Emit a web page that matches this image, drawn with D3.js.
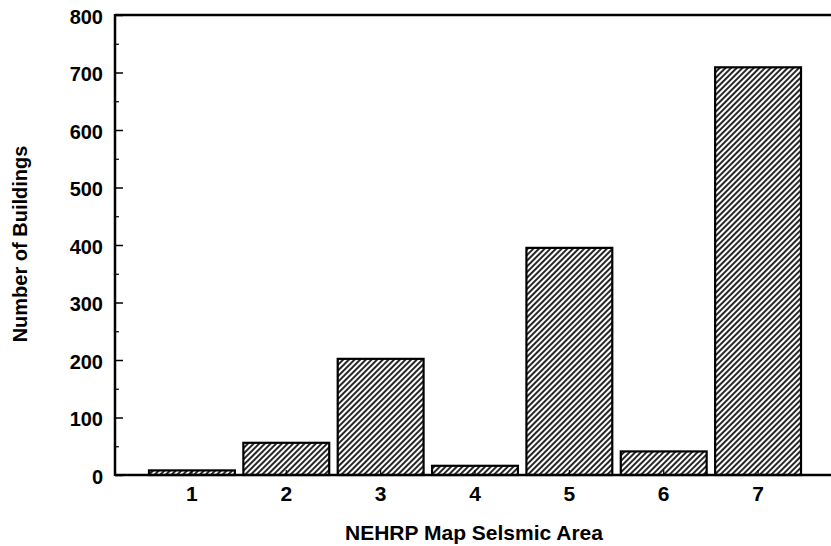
<!DOCTYPE html>
<html>
<head>
<meta charset="utf-8">
<script src="https://cdn.jsdelivr.net/npm/d3@7"></script>
<style>
  body { margin: 0; background: #fff; }
  text { font-family: "Liberation Sans", Arial, sans-serif; font-weight: bold; fill: #000; }
</style>
</head>
<body>
<div id="chart"></div>
<script>
const areas = ['1','2','3','4','5','6','7']
const buildings = [8, 56, 202, 16, 395, 41, 709]
const yTicks = [0, 100, 200, 300, 400, 500, 600, 700, 800]

const width = 831, height = 546
const plotLeft = 115, plotTop = 15, plotBottom = 475, plotRight = 840

const svg = d3.select('#chart').append('svg')
    .attr('width', width)
    .attr('height', height)

// hatch pattern for the bars
const pat = svg.append('defs').append('pattern')
    .attr('id', 'hatch')
    .attr('patternUnits', 'userSpaceOnUse')
    .attr('width', 4)
    .attr('height', 4)
    .attr('patternTransform', 'rotate(45)')
pat.append('rect').attr('width', 4).attr('height', 4).attr('fill', '#fff')
pat.append('line')
    .attr('x1', 1).attr('y1', 0).attr('x2', 1).attr('y2', 4)
    .attr('stroke', '#000').attr('stroke-width', 1.7)

const x = d3.scaleBand()
    .domain(areas)
    .range([149, 801])
    .paddingInner(0.09)

const y = d3.scaleLinear()
    .domain([0, 800])
    .range([plotBottom, plotTop])

// bars
svg.selectAll('.bar')
    .data(buildings)
    .join('rect')
    .attr('class', 'bar')
    .attr('x', (d, i) => x(areas[i]))
    .attr('y', d => y(d))
    .attr('width', x.bandwidth())
    .attr('height', d => y(0) - y(d))
    .attr('fill', 'url(#hatch)')
    .attr('stroke', '#000')
    .attr('stroke-width', 2.2)

// y axis, ticks point inward
const yAxis = svg.append('g')
    .attr('transform', `translate(${plotLeft},0)`)
    .call(d3.axisLeft(y).tickValues(yTicks).tickSize(-8).tickPadding(12))
yAxis.select('.domain').remove()
yAxis.selectAll('line').attr('stroke-width', 1.5)
yAxis.selectAll('text').attr('font-size', 20).attr('font-family', null).attr('dy', '0.42em')

const yMinor = svg.append('g')
    .attr('transform', `translate(${plotLeft},0)`)
    .call(d3.axisLeft(y).tickValues(yTicks.slice(1).map(v => v - 50)).tickSize(-4).tickFormat(''))
yMinor.select('.domain').remove()
yMinor.selectAll('line').attr('stroke-width', 1.2)

// x axis
const xAxis = svg.append('g')
    .attr('transform', `translate(0,${plotBottom})`)
    .call(d3.axisBottom(x).tickSize(-5).tickPadding(11))
xAxis.select('.domain').remove()
xAxis.selectAll('line').attr('stroke-width', 1.2)
xAxis.selectAll('text').attr('font-size', 21).attr('font-family', null)

// frame lines
svg.append('line').attr('x1', plotLeft).attr('y1', plotTop).attr('x2', plotRight).attr('y2', plotTop)
    .attr('stroke', '#000').attr('stroke-width', 2.5)
svg.append('line').attr('x1', plotLeft).attr('y1', plotTop - 1).attr('x2', plotLeft).attr('y2', plotBottom + 1)
    .attr('stroke', '#000').attr('stroke-width', 2.5)
svg.append('line').attr('x1', plotLeft).attr('y1', plotBottom).attr('x2', plotRight).attr('y2', plotBottom)
    .attr('stroke', '#000').attr('stroke-width', 2.5)

// axis titles
svg.append('text')
    .attr('x', 474)
    .attr('y', 540)
    .attr('text-anchor', 'middle')
    .attr('font-size', 21)
    .text('NEHRP Map Selsmic Area')

svg.append('text')
    .attr('transform', 'translate(27,244) rotate(-90)')
    .attr('text-anchor', 'middle')
    .attr('font-size', 20)
    .text('Number of Buildings')
</script>
</body>
</html>
